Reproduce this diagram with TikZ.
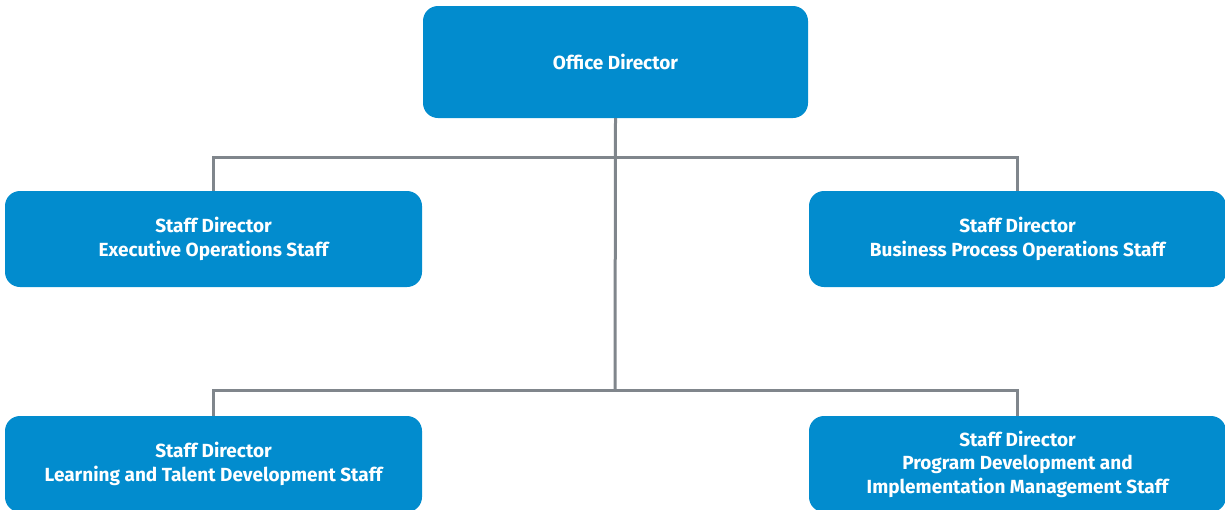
\documentclass[tikz,border=0pt]{standalone}
\usepackage{fontspec}
\setmainfont{Fira Sans}
\usepackage{tikz}
\definecolor{boxblue}{RGB}{2,140,206}
\definecolor{linegray}{RGB}{128,134,140}

\begin{document}
\begin{tikzpicture}[x=1pt,y=-1pt,
		unitnode/.style = {draw=none,fill=boxblue,rounded corners=15pt,text=white,
			font=\fontsize{19}{23.5}\selectfont\bfseries,align=center,inner sep=0pt,
			minimum width=417pt,minimum height=96pt},
		topnode/.style = {unitnode,minimum width=385pt,minimum height=112pt},
		conn/.style = {draw=linegray,line width=3pt}]
		\useasboundingbox (0,0) rectangle (1225,509);
		\node [topnode] (od) at (615.5,62) {Office Director};
		\node [unitnode] (eo) at (213.5,239) {Staff Director\\Executive Operations Staff};
		\node [unitnode] (bp) at (1017.5,239) {Staff Director\\Business Process Operations Staff};
		\node [unitnode] (lt) at (213.5,464) {Staff Director\\Learning and Talent Development Staff};
		\node [unitnode] (pd) at (1017.5,464) {Staff Director\\Program Development and\\Implementation Management Staff};
		\coordinate (upper) at (615,157);
		\coordinate (lower) at (615,390);
		\draw [conn] (od.south) -- (lower);
		\draw [conn] (upper) -| (eo.north);
		\draw [conn] (upper) -| (bp.north);
		\draw [conn] (lower) -| (lt.north);
		\draw [conn] (lower) -| (pd.north);
\end{tikzpicture}
\end{document}
